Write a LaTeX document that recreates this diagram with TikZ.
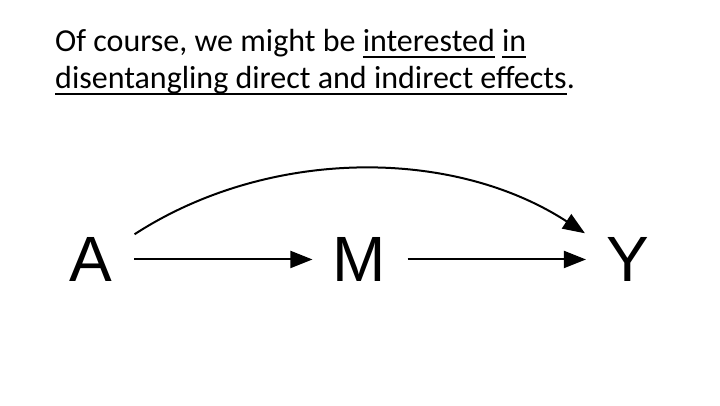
\documentclass[tikz,border=0pt]{standalone}
\usepackage{fontspec}
\setmainfont{Carlito}
\newfontfamily\dagfont{Liberation Sans}
\usetikzlibrary{arrows.meta, positioning}
\newsavebox{\ulbox}
\newcommand{\ulword}[1]{\sbox{\ulbox}{#1}\rlap{\rule[-6.5pt]{\wd\ulbox}{2.2pt}}\usebox{\ulbox}}

\begin{document}
\begin{tikzpicture}[
    var/.style={inner sep=0pt, anchor=base, font=\dagfont\fontsize{64}{64}\selectfont},
    arrow/.style={-{Triangle[length=22pt, width=17pt]}, line width=2pt},
    link/.style={arrow, shorten <=21.5pt, shorten >=20pt},
    title/.style={anchor=north west, inner sep=0pt, align=left, font=\fontsize{32}{32.6}\selectfont}
]
\useasboundingbox (0,0) rectangle (720pt,405pt);
\node[title] (msg) at (55pt,375.5pt) {Of course, we might be \ulword{interested} \ulword{in}\\[4pt]\ulword{disentangling direct and indirect effects}.};
% the three variables
\node[var] (A) at (91pt,123.5pt) {A};
\node[var] (M) at (359.3pt,123.5pt) {M};
\node[var] (Y) at (627.5pt,123.5pt) {Y};
\draw[link] (A) -- (M);
\draw[link] (M) -- (Y);
% direct effect
\draw[arrow] ([shift={(22pt,3pt)}]A.north east) to[out=33, in=147, looseness=0.9] ([shift={(-21pt,4pt)}]Y.north west);
\end{tikzpicture}
\end{document}
